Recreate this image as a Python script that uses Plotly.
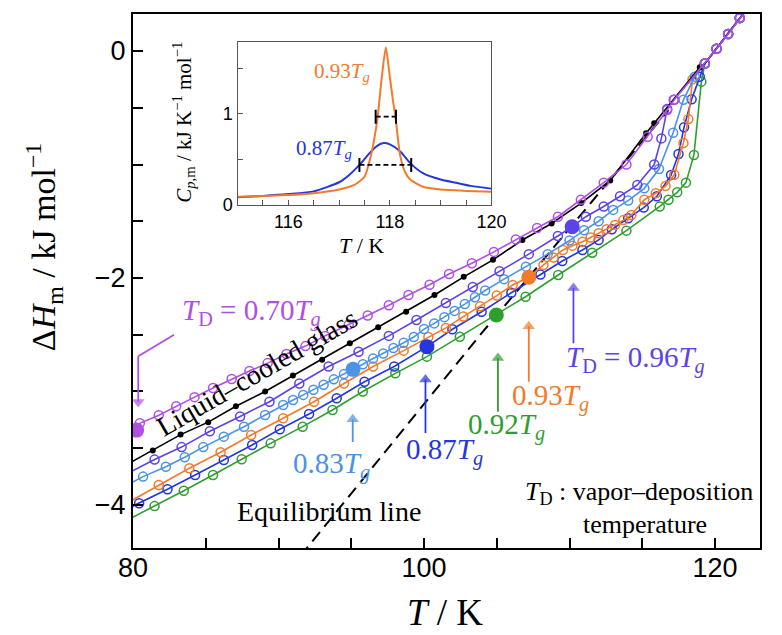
import plotly.graph_objects as go

SERIF = "Liberation Serif, Times New Roman, serif"
SANS = "Liberation Sans, Arial, sans-serif"

# ---------------- main panel: enthalpy vs temperature ----------------
# T in K, dH in kJ/mol, one pair of lists per deposition temperature
T_070 = [80.25, 80.47, 81.77, 82.97, 84.23, 85.50, 86.78, 88.00, 89.25, 90.55,
         91.85, 93.20, 94.83, 96.13, 97.58, 98.93, 100.38, 101.72, 103.29, 104.80,
         106.31, 107.77, 109.20, 110.78, 112.35, 113.91, 115.37, 116.71, 117.20]
H_070 = [-3.34, -3.28, -3.21, -3.13, -3.05, -2.97, -2.89, -2.82, -2.75, -2.67,
         -2.60, -2.51, -2.41, -2.33, -2.24, -2.15, -2.06, -1.965, -1.87, -1.77,
         -1.66, -1.56, -1.46, -1.31, -1.16, -1.00, -0.755, -0.52, -0.43]

T_LC = [79.5, 81.36, 83.27, 85.17, 87.07, 89.08, 90.99, 93.00, 94.90, 96.85,
        98.77, 100.72, 102.73, 104.74, 106.76, 108.77, 110.80, 112.80, 115.26, 115.82,
        118.95]
H_LC = [-3.65, -3.52, -3.38, -3.27, -3.13, -3.00, -2.86, -2.72, -2.575, -2.435,
        -2.297, -2.15, -1.99, -1.84, -1.665, -1.52, -1.34, -1.14, -0.725, -0.637,
        -0.144]

T_096 = [79.5, 81.48, 83.34, 85.28, 87.36, 89.38, 91.43, 93.44, 95.50, 97.58,
         99.48, 101.50, 103.35, 105.19, 107.20, 109.20, 110.18, 111.12, 112.35, 113.47,
         114.66, 115.82, 116.31, 116.71, 117.16]
H_096 = [-3.73, -3.60, -3.49, -3.35, -3.22, -3.09, -2.93, -2.78, -2.65, -2.51,
         -2.37, -2.22, -2.08, -1.94, -1.79, -1.63, -1.548, -1.46, -1.37, -1.28,
         -1.18, -1.00, -0.77, -0.51, -0.43]

T_083 = [79.5, 80.69, 82.26, 83.56, 84.83, 86.24, 87.63, 89.08, 90.32, 91.00,
         91.70, 92.40, 93.10, 93.80, 94.50, 95.12, 95.80, 96.50, 97.20, 97.90,
         98.60, 99.30, 100.00, 100.70, 101.40, 102.10, 102.80, 103.50, 104.20, 105.50,
         107.00, 108.50, 110.00, 111.00, 112.00, 113.00, 114.03, 115.14, 116.15, 117.12,
         117.83, 118.61]
H_083 = [-3.83, -3.75, -3.663, -3.58, -3.49, -3.398, -3.31, -3.207, -3.119, -3.075,
         -3.03, -2.985, -2.94, -2.893, -2.847, -2.805, -2.76, -2.71, -2.665, -2.617,
         -2.57, -2.52, -2.45, -2.40, -2.345, -2.29, -2.23, -2.17, -2.11, -2.01,
         -1.90, -1.79, -1.67, -1.58, -1.50, -1.40, -1.318, -1.21, -1.04, -0.72,
         -0.43, -0.226]

T_093 = [79.5, 81.77, 83.87, 86.02, 88.12, 90.32, 92.44, 94.50, 96.50, 98.60,
         100.30, 101.50, 102.70, 103.85, 105.00, 106.09, 107.20, 108.21, 108.90, 109.55,
         110.20, 110.89, 111.45, 112.00, 112.55, 113.13, 113.70, 114.25, 115.14, 115.93,
         116.60, 117.20, 117.83, 118.17, 118.45]
H_093 = [-3.99, -3.824, -3.677, -3.536, -3.383, -3.236, -3.09, -2.93, -2.78, -2.64,
         -2.52, -2.44, -2.34, -2.25, -2.155, -2.062, -1.994, -1.885, -1.82, -1.753,
         -1.715, -1.68, -1.643, -1.606, -1.57, -1.533, -1.49, -1.445, -1.31, -1.254,
         -1.19, -1.09, -0.81, -0.60, -0.25]

T_087 = [79.5, 80.42, 82.37, 84.27, 86.24, 88.19, 90.09, 92.10, 94.00, 95.91,
         97.95, 100.20, 101.95, 103.96, 106.00, 108.00, 109.50, 110.89, 112.00, 112.91,
         114.03, 115.10, 116.00, 116.98, 117.49, 117.87, 118.39, 118.95]
H_087 = [-4.04, -3.985, -3.862, -3.736, -3.604, -3.471, -3.333, -3.198, -3.06, -2.914,
         -2.78, -2.605, -2.452, -2.297, -2.13, -1.97, -1.85, -1.753, -1.665, -1.571,
         -1.474, -1.38, -1.28, -1.093, -0.908, -0.672, -0.426, -0.226]

T_092 = [79.5, 81.48, 83.49, 85.50, 87.47, 89.46, 91.66, 93.71, 95.79, 98.03,
         100.20, 102.46, 104.97, 106.98, 109.22, 111.56, 113.91, 116.20, 116.80, 117.40,
         118.00, 118.55, 119.06]
H_092 = [-4.14, -4.01, -3.874, -3.736, -3.597, -3.457, -3.31, -3.163, -3.00, -2.84,
         -2.693, -2.517, -2.326, -2.165, -1.974, -1.777, -1.583, -1.37, -1.31, -1.245,
         -1.16, -0.916, -0.27]

# common supercooled-liquid branch above the glass transition
T_LIQ = [119.3, 120.1, 120.9, 121.7, 122.5]
H_LIQ = [-0.11, 0.02, 0.15, 0.29, 0.42]

# equilibrium (extrapolated liquid) line
T_EQ = [91.5, 96.0, 100.0, 104.0, 108.0, 112.0, 116.8]
H_EQ = [-4.45, -3.74, -3.11, -2.48, -1.87, -1.26, -0.52]

# deposition temperatures T_D (filled points)
TD_T = [80.25, 95.12, 100.20, 104.97, 107.20, 110.18]
TD_H = [-3.34, -2.805, -2.605, -2.326, -1.994, -1.548]

# ---------------- inset: heat capacity peaks ----------------
T_CP93 = [115.0, 115.5, 116.0, 116.5, 117.0, 117.3, 117.5, 117.63, 117.7, 117.76,
          117.84, 117.92, 118.0, 118.06, 118.11, 118.2, 118.3, 118.4, 118.65, 119.0,
          119.5, 120.0]
CP93 = [0.09, 0.10, 0.11, 0.13, 0.17, 0.22, 0.31, 0.55, 0.75, 0.97,
        1.40, 1.73, 1.40, 1.15, 0.97, 0.55, 0.36, 0.28, 0.20, 0.17,
        0.155, 0.145]
T_CP87 = [115.0, 115.5, 116.0, 116.5, 117.0, 117.2, 117.4, 117.6, 117.75, 117.88,
          118.0, 118.2, 118.4, 118.65, 119.0, 119.3, 119.6, 120.0]
CP87 = [0.085, 0.10, 0.12, 0.15, 0.25, 0.33, 0.44, 0.57, 0.65, 0.68,
        0.665, 0.59, 0.46, 0.35, 0.28, 0.245, 0.21, 0.18]
# peak widths (K) and the heights at which they are marked
W93_T = [117.72, 118.12]
W93_CP = [0.97, 0.97]
W87_T = [117.40, 118.42]
W87_CP = [0.44, 0.44]

C070 = "#b04ee6"
C096 = "#5b43e6"
C083 = "#4a93e6"
C093 = "#f27a2a"
C087 = "#2436dc"
C092 = "#2e9e2e"

fig = go.Figure()

fig.add_trace(go.Scatter(x=T_EQ, y=H_EQ, mode="lines",
                         line=dict(color="black", width=2, dash="12px,7px")))


def glass(T, H, color):
    fig.add_trace(go.Scatter(
        x=T + T_LIQ, y=H + H_LIQ, mode="lines+markers",
        line=dict(color=color, width=1.6),
        marker=dict(symbol="circle-open", size=9, color=color,
                    line=dict(width=1.5, color=color))))


glass(T_092, H_092, C092)
glass(T_087, H_087, C087)
glass(T_093, H_093, C093)
glass(T_083, H_083, C083)
glass(T_096, H_096, C096)

# liquid-cooled glass
fig.add_trace(go.Scatter(x=T_LC + T_LIQ, y=H_LC + H_LIQ, mode="lines",
                         line=dict(color="black", width=1.6)))
fig.add_trace(go.Scatter(x=T_LC[1:], y=H_LC[1:], mode="markers",
                         marker=dict(color="black", size=6)))

glass(T_070, H_070, C070)

fig.add_trace(go.Scatter(x=TD_T, y=TD_H, mode="markers",
                         marker=dict(size=15, color=[C070, C083, C087, C092, C093, C096],
                                     line=dict(width=0))))

# arrows pointing at the deposition temperatures: (x, tail y, tip y, colour)
arrows = [(95.1, -3.445, -3.19, C083),
          (100.1, -3.366, -2.84, C087),
          (105.08, -3.178, -2.65, C092),
          (107.2, -2.914, -2.37, C093),
          (110.27, -2.575, -2.033, C096),
          (80.36, -2.69, -3.148, C070)]
head = 0.055  # shaft stops short of the tip by half an arrowhead
for ax_x, y0, y1, col in arrows:
    up = y1 > y0
    yc = y1 - head if up else y1 + head
    fig.add_shape(type="line", xref="x", yref="y", x0=ax_x, x1=ax_x, y0=y0, y1=yc,
                  line=dict(color=col, width=1.8))
    fig.add_trace(go.Scatter(x=[ax_x], y=[yc], mode="markers",
                             marker=dict(symbol="triangle-up" if up else "triangle-down",
                                         size=[11], color=col, line=dict(width=0))))
fig.add_shape(type="line", xref="x", yref="y", x0=82.82, y0=-2.50, x1=80.36, y1=-2.69,
              line=dict(color=C070, width=1.8))

# inset curves
fig.add_trace(go.Scatter(x=T_CP87, y=CP87, xaxis="x2", yaxis="y2", mode="lines",
                         line=dict(color=C087, width=2, shape="spline", smoothing=0.6)))
fig.add_trace(go.Scatter(x=T_CP93, y=CP93, xaxis="x2", yaxis="y2", mode="lines",
                         line=dict(color=C093, width=2, shape="spline", smoothing=0.6)))
for wt, wc in ((W93_T, W93_CP), (W87_T, W87_CP)):
    fig.add_trace(go.Scatter(x=wt, y=wc, xaxis="x2", yaxis="y2", mode="lines+markers",
                             line=dict(color="black", width=1.8, dash="5px,3px"),
                             marker=dict(symbol="line-ns", size=10,
                                         line=dict(width=2, color="black"))))

main_ax = dict(showline=True, linecolor="black", linewidth=2, mirror=True,
               ticks="inside", ticklen=10, tickwidth=2, tickcolor="black",
               showgrid=False, zeroline=False,
               tickfont=dict(family=SANS, size=27, color="black"))
inset_ax = dict(showline=True, linecolor="#555555", linewidth=1.2, mirror=True,
                ticks="inside", ticklen=5, tickwidth=1.2, tickcolor="#555555",
                showgrid=False, zeroline=False,
                tickfont=dict(family=SANS, size=18, color="black"))

fig.update_layout(
    width=782, height=635,
    margin=dict(l=133, r=7, t=14, b=87),
    plot_bgcolor="white", paper_bgcolor="white",
    showlegend=False,
    xaxis=dict(range=[80, 123.09], domain=[0, 1],
               tickvals=[80, 100, 120], ticktext=["80", "100", "120"],
               minor=dict(tickvals=[85, 90, 95, 105, 110, 115], ticks="inside",
                          ticklen=10, tickwidth=2, tickcolor="black"),
               ticklabelstandoff=-5, **main_ax),
    yaxis=dict(range=[-4.379, 0.326], domain=[0, 1],
               tickvals=[-4, -2, 0], ticktext=["\u22124", "\u22122", "0"],
               minor=dict(tickvals=[-3.5, -3, -2.5, -1.5, -1, -0.5], ticks="inside",
                          ticklen=10, tickwidth=2, tickcolor="black"),
               **main_ax),
    xaxis2=dict(range=[115, 120], domain=[0.1667, 0.5717], anchor="y2",
                tickvals=[116, 118, 120], ticktext=["116", "118", "120"],
                minor=dict(tickvals=[115, 115.5, 116.5, 117, 117.5, 118.5, 119, 119.5],
                           ticks="inside", ticklen=5, tickwidth=1.2, tickcolor="#555555"),
                **inset_ax),
    yaxis2=dict(range=[0, 1.79], domain=[0.6423, 0.9476], anchor="x2",
                tickvals=[0, 1], ticktext=["0", "1"],
                minor=dict(tickvals=[0.5, 1.5], ticks="inside", ticklen=5,
                           tickwidth=1.2, tickcolor="#555555"),
                **inset_ax),
)

ann = []


def text(x, y, s, size, color="black", ref="data", angle=0, xanchor="center"):
    d = dict(x=x, y=y, text=s, showarrow=False, textangle=angle,
             font=dict(family=SERIF, size=size, color=color),
             xanchor=xanchor, yanchor="middle")
    if ref == "paper":
        d.update(xref="paper", yref="paper")
    elif ref == "inset":
        d.update(xref="x2", yref="y2")
    else:
        d.update(xref="x", yref="y")
    ann.append(d)


Tg = "<i>T</i><sub><i>g</i></sub>"
TD = "<i>T</i><sub>D</sub>"

# axis titles
text(-0.1417, 0.5637, "\u0394<i>H</i><sub>m</sub> / kJ mol<sup>\u22121</sup>", 34,
     ref="paper", angle=-90)
text(0.4984, -0.1217, "<i>T</i> / K", 37, ref="paper")
text(0.081, 0.7978, "<i>C</i><sub><i>p</i>,m</sub> / kJ K<sup>\u22121</sup> mol<sup>\u22121</sup>",
     21, ref="paper", angle=-90)
text(0.3645, 0.5674, "<i>T</i> / K", 22, ref="paper")

# inset labels
text(117.05, 1.46, "0.93" + Tg, 21, C093, ref="inset")
text(116.71, 0.615, "0.87" + Tg, 21, C087, ref="inset")

# main labels
text(88.12, -2.30, TD + " = 0.70" + Tg, 29, C070)
text(88.52, -2.837, "Liquid\u2013cooled glass", 28, angle=-30)
text(93.49, -4.06, "Equilibrium line", 28)
text(93.62, -3.65, "0.83" + Tg, 29, C083)
text(101.41, -3.53, "0.87" + Tg, 29, C087)
text(105.7, -3.31, "0.92" + Tg, 29, C092)
text(108.72, -3.05, "0.93" + Tg, 29, C093)
text(114.5, -2.72, TD + " = 0.96" + Tg, 29, C096)
text(114.77, -3.89, TD + " : vapor\u2013deposition", 26)
text(115.17, -4.175, "temperature", 26)

fig.update_layout(annotations=ann)

fig.write_html("out.html")
